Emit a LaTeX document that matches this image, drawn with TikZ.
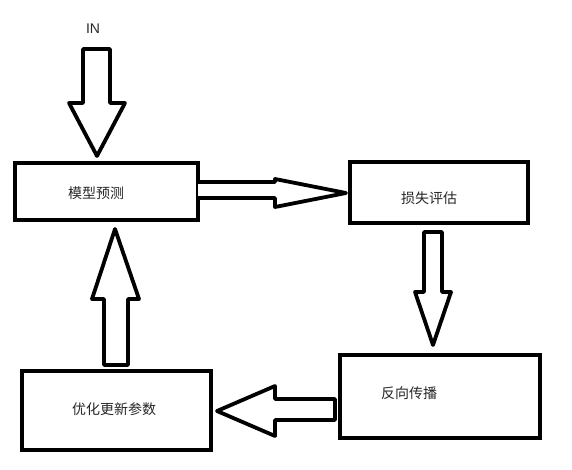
\documentclass[tikz,border=0pt]{standalone}
\usepackage{fontspec}
\setmainfont{Liberation Sans}
\newfontfamily\cjk{Noto Sans CJK SC}
\begin{document}
\begin{tikzpicture}[x=1pt,y=-1pt,
  box/.style={draw=black,line width=4pt,rectangle,inner sep=0pt,outer sep=0pt},
  blockarrow/.style={draw=black,line width=3.8pt,line join=round,fill=white},
  lbl/.style={font=\cjk\fontsize{14}{16}\selectfont,text=black!85,inner sep=0pt},
  inlbl/.style={font=\fontsize{14}{16}\selectfont,text=black!85,inner sep=0pt}]
\useasboundingbox (0,0) rectangle (572,470);
% boxes
\node[box,minimum width=183pt,minimum height=57pt] (m) at (106.5,191.5) {};
\node[box,minimum width=178pt,minimum height=61pt] (s) at (439,192.5) {};
\node[box,minimum width=200pt,minimum height=83pt] (f) at (440,396.5) {};
\node[box,minimum width=189pt,minimum height=79pt] (y) at (116.5,410.5) {};
% labels
\node[lbl] (mt) at (96,193) {模型预测};
\node[lbl] (st) at (429,198) {损失评估};
\node[lbl] (ft) at (409,393) {反向传播};
\node[lbl] (yt) at (114,409) {优化更新参数};
\node[inlbl] (in) at (93,29) {IN};
% block arrows
\draw[blockarrow] (83,49) -- (110,49) -- (110,103) -- (125,103) -- (97,156) -- (69,103) -- (83,103) -- cycle;
\draw[blockarrow] (m.east |- 0,182) -- (275,182) -- (275,179) -- (346,193) -- (275,207) -- (275,198) -- (m.east |- 0,198);
\draw[blockarrow] (424,232) -- (442,232) -- (442,292) -- (451,292) -- (433,345) -- (415,292) -- (424,292) -- cycle;
\draw[blockarrow] (104,365) -- (104,299) -- (92,299) -- (115,229) -- (139,299) -- (128,299) -- (128,365) -- cycle;
\draw[blockarrow] (335,399) -- (275,399) -- (275,386) -- (217,411) -- (275,436) -- (275,420) -- (335,420) -- cycle;
\end{tikzpicture}
\end{document}
